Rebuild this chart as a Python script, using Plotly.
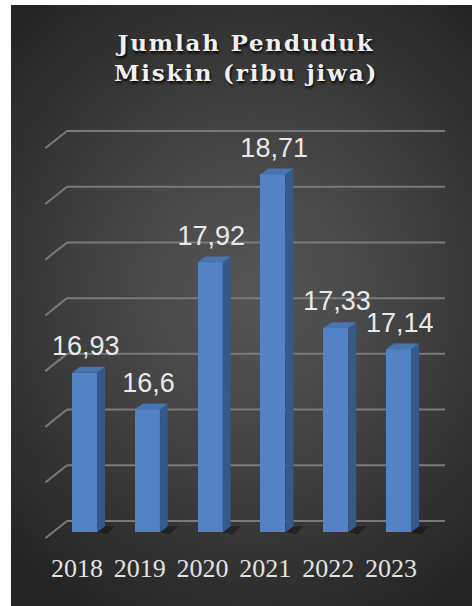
import base64, struct, zlib
import numpy as np
import plotly.graph_objects as go

# ---- data ----
years = ["2018", "2019", "2020", "2021", "2022", "2023"]
values = [16.93, 16.6, 17.92, 18.71, 17.33, 17.14]
grid_vals = [15.5, 16.0, 16.5, 17.0, 17.5, 18.0, 18.5, 19.0]
title_text = "Jumlah Penduduk<br>Miskin (ribu jiwa)"
labels = [str(v).replace(".", ",") for v in values]

# ---- style / geometry constants ----
W, H = 474, 606
PLOT_B = 58
AX_MIN = 15.4          # front floor of the 3D bars
BAR_W = 0.40
DX, DY = 0.127, 0.054  # 3D depth offsets (x units, y units)
FRONT = 0.10           # front faces sit below the back wall
WALL_L, WALL_R = -0.279, 5.74
DIAG_DX, DIAG_DY = 0.345, 0.155
TICK_SHIFT = -0.12

FRONT_C = "#5383c4"
SIDE_C = "#36598c"
TOP_C = "#4874b0"
SHADOW_C = "rgba(0,0,0,0.35)"
GRID_C = "#7a7a7a"


def gradient_png(w, h):
    yy, xx = np.mgrid[0:h, 0:w]
    cx, cy = w * 0.52, h * 0.47
    d = np.sqrt(((xx - cx) / (w * 0.75)) ** 2 + ((yy - cy) / (h * 0.62)) ** 2)
    d = np.clip(d, 0, 1)
    inner, outer = 86, 36
    c = (inner + (outer - inner) * d ** 1.2).astype(np.uint8)
    img = np.stack([c, c, c], axis=-1)
    raw = b"".join(b"\x00" + img[r].tobytes() for r in range(h))

    def chunk(t, data):
        return struct.pack(">I", len(data)) + t + data + struct.pack(">I", zlib.crc32(t + data) & 0xFFFFFFFF)

    png = b"\x89PNG\r\n\x1a\n" + chunk(b"IHDR", struct.pack(">IIBBBBB", w, h, 8, 2, 0, 0, 0)) \
        + chunk(b"IDAT", zlib.compress(raw, 9)) + chunk(b"IEND", b"")
    return "data:image/png;base64," + base64.b64encode(png).decode()


idx = list(range(len(years)))
fig = go.Figure()

# floor shadows
for i in idx:
    r = i + BAR_W / 2
    fig.add_trace(go.Scatter(
        x=[r, r + 0.16, r + 0.16 + DX, r + DX, r], y=[AX_MIN, AX_MIN - 0.02, AX_MIN + DY, AX_MIN + DY, AX_MIN],
        fill="toself", fillcolor=SHADOW_C, mode="lines", line=dict(width=0),
        hoverinfo="skip", showlegend=False))

# front faces
fig.add_trace(go.Bar(
    x=idx, y=[v - FRONT - AX_MIN for v in values], base=AX_MIN,
    width=BAR_W, marker=dict(color=FRONT_C, line=dict(width=0)),
    hoverinfo="skip", showlegend=False))

# side and top faces
for i, v in zip(idx, values):
    r = i + BAR_W / 2
    l = i - BAR_W / 2
    t = v - FRONT
    fig.add_trace(go.Scatter(
        x=[r, r + DX, r + DX, r, r], y=[AX_MIN, AX_MIN + DY, t + DY, t, AX_MIN],
        fill="toself", fillcolor=SIDE_C, mode="lines", line=dict(width=0),
        hoverinfo="skip", showlegend=False))
    fig.add_trace(go.Scatter(
        x=[l, r, r + DX, l + DX, l], y=[t, t, t + DY, t + DY, t],
        fill="toself", fillcolor=TOP_C, mode="lines", line=dict(width=0),
        hoverinfo="skip", showlegend=False))

# data labels
fig.add_trace(go.Scatter(
    x=[i + 0.02 for i in idx], y=values, mode="text", text=labels,
    textposition="top center",
    textfont=dict(family="Liberation Sans, Arial", size=27, color="#e9e9e9"),
    hoverinfo="skip", showlegend=False, cliponaxis=False))

# gridlines (back wall + left side wall)
shapes = []
for g in grid_vals:
    shapes.append(dict(type="line", xref="x", yref="y", x0=WALL_L, x1=WALL_R, y0=g, y1=g,
                       line=dict(color=GRID_C, width=2), layer="below"))
    shapes.append(dict(type="line", xref="x", yref="y", x0=WALL_L, x1=WALL_L - DIAG_DX,
                       y0=g, y1=g - DIAG_DY, line=dict(color=GRID_C, width=2), layer="below"))
fig.update_layout(shapes=shapes)

# pixel calibrations
px_per_x = 62.8
x0 = -84.5 / px_per_x
x1 = x0 + W / px_per_x
px_per_y = 111.43
y_top = 19.0 + 131 / px_per_y
y_bot = 19.0 - (H - PLOT_B - 131) / px_per_y

fig.update_layout(
    width=W, height=H,
    margin=dict(l=0, r=0, t=0, b=PLOT_B, pad=0),
    paper_bgcolor="white", plot_bgcolor="rgba(0,0,0,0)",
    images=[dict(source=gradient_png(120, 160), xref="paper", yref="paper",
                 x=11 / W, y=1 - 5 / (H - PLOT_B), sizex=(472 - 11) / W, sizey=(H - 5) / (H - PLOT_B),
                 xanchor="left", yanchor="top", sizing="stretch", layer="below")],
    title=dict(text=title_text, x=246 / W, xanchor="center", y=1 - 51 / H, yanchor="middle",
               yref="container",
               font=dict(family="DejaVu Serif", size=23, color="#f0f0f0", weight="bold",
                         shadow="1px 2px 3px #000")),
    xaxis=dict(range=[x0, x1], tickvals=[i + TICK_SHIFT for i in idx], ticktext=years,
               showgrid=False, zeroline=False,
               showline=False, ticks="", ticklabelstandoff=2,
               tickfont=dict(family="Liberation Serif", size=26, color="#e2e2e2")),
    yaxis=dict(range=[y_bot, y_top], showgrid=False, zeroline=False, showline=False,
               showticklabels=False, ticks=""),
    bargap=0,
)

post = (
    "document.body.style.margin='0';"
    "document.querySelectorAll('.gtitle').forEach(function(e){e.style.letterSpacing='1.8px';});"
)
fig.write_html("out.html", post_script=post, config={"displayModeBar": False})
